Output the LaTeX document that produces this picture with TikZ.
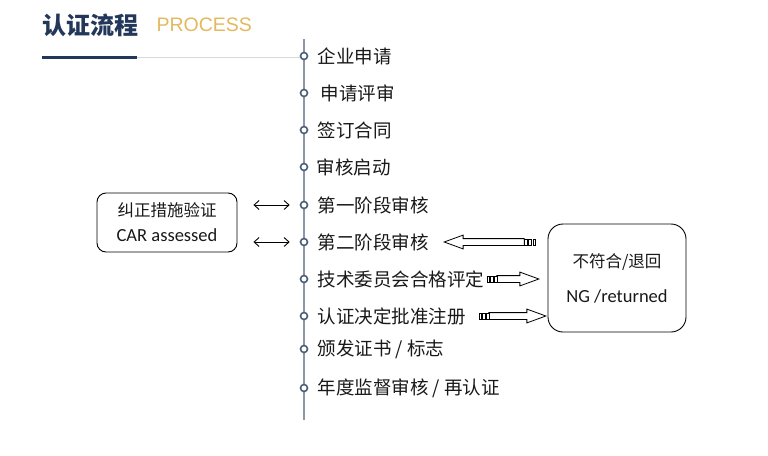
\documentclass[tikz,border=0pt]{standalone}
\usepackage{fontspec}
\setmainfont{Carlito}
\newfontfamily\cjk{Noto Sans CJK SC}
\newfontfamily\procfont{Liberation Sans}
\usepackage{tikz}
\usetikzlibrary{arrows.meta, calc, positioning, shapes.arrows}
\definecolor{titleblue}{HTML}{22375A}
\definecolor{procgold}{HTML}{E3B95F}
\definecolor{spinegray}{HTML}{8D97A7}
\definecolor{dotblue}{HTML}{4B5C78}

\tikzset{
  stepdot/.style={circle, draw=dotblue, fill=white, line width=1.6pt, minimum size=7pt, inner sep=0pt},
  steptxt/.style={inner sep=0pt, font=\cjk\fontsize{18.5}{20}\selectfont, text=black!90},
  notebox/.style={draw, rounded corners=9pt, line width=0.9pt, align=center, inner sep=0pt, text=black!90},
  bigarr/.style={single arrow, draw, fill=white, line width=0.8pt, inner xsep=0pt, inner ysep=3pt,
    single arrow head extend=3.5pt, single arrow tip angle=40},
  tailbit/.style={draw, fill=white, line width=0.8pt},
  dblarr/.style={{Straight Barb[length=5pt,width=9pt]}-{Straight Barb[length=5pt,width=9pt]}, line width=0.9pt},
}

\begin{document}
\begin{tikzpicture}[x=1pt, y=-1pt]
\useasboundingbox[fill=white] (0,0) rectangle (768,455);

% title
\node[anchor=west, inner sep=0pt, font=\cjk\bfseries\fontsize{24}{26}\selectfont, text=titleblue] (ttl) at (42,25) {认证流程};
\node[inner sep=0pt, font=\procfont\fontsize{19.5}{20}\selectfont, text=procgold, right=18pt of ttl] (proc) {PROCESS};
\draw[titleblue, line width=3pt] (42,57) -- (137,57);
\draw[black!15, line width=0.8pt] (137,57) -- (300,57);

% time line
\draw[spinegray, line width=1.5pt] (304,39) -- (304,420);

\node[stepdot] (c1) at (304,56) {};   \node[steptxt, right=9pt of c1] (s1) {企业申请};
\node[stepdot] (c2) at (304,93) {};   \node[steptxt, right=12pt of c2] (s2) {申请评审};
\node[stepdot] (c3) at (304,130) {};  \node[steptxt, right=9pt of c3] (s3) {签订合同};
\node[stepdot] (c4) at (304,167) {};  \node[steptxt, right=8pt of c4] (s4) {审核启动};
\node[stepdot] (c5) at (304,205) {};  \node[steptxt, right=9pt of c5] (s5) {第一阶段审核};
\node[stepdot] (c6) at (304,242) {};  \node[steptxt, right=9pt of c6] (s6) {第二阶段审核};
\node[stepdot] (c7) at (304,279) {};  \node[steptxt, right=9pt of c7] (s7) {技术委员会合格评定};
\node[stepdot] (c8) at (304,316) {};  \node[steptxt, right=9pt of c8] (s8) {认证决定批准注册};
\node[stepdot] (c9) at (304,349) {};  \node[steptxt, right=9pt of c9] (s9) {颁发证书 / 标志};
\node[stepdot] (c10) at (304,388) {}; \node[steptxt, right=9pt of c10] (s10) {年度监督审核 / 再认证};

% side boxes
\node[notebox, minimum width=140pt, minimum height=59pt, font=\fontsize{18.5}{25}\selectfont] (car) at (167,222.5)
  {{\cjk\fontsize{16.5}{25}\selectfont 纠正措施验证}\\CAR assessed};
\node[notebox, rounded corners=15pt, minimum width=138pt, minimum height=108pt, font=\fontsize{18.5}{35}\selectfont] (ng) at (617,278)
  {{\cjk\fontsize{16.5}{35}\selectfont 不符合/退回}\\NG /returned};

\draw[dblarr] ([xshift=16pt]car.east |- c5) -- ([xshift=-10pt]c5.west);
\draw[dblarr] ([xshift=16pt]car.east |- c6) -- ([xshift=-10pt]c6.west);

% block arrows
\node[bigarr, shape border rotate=180, minimum height=80pt, anchor=tip] (back) at (443,0 |- c6) {};
\foreach \a/\b in {524/527, 528.5/531, 533/535.5}
  \draw[tailbit] (\a,239) rectangle (\b,245);
\node[bigarr, minimum height=42pt, anchor=tip] (toNG1) at (540,0 |- c7) {};
\foreach \a/\b in {487/489, 490.5/493, 494.5/497}
  \draw[tailbit] (\a,276) rectangle (\b,282);
\node[bigarr, minimum height=57pt, anchor=tip] (toNG2) at (547,0 |- c8) {};
\foreach \a/\b in {479/481, 482.5/485, 486.5/489}
  \draw[tailbit] (\a,313) rectangle (\b,319);
\end{tikzpicture}
\end{document}
